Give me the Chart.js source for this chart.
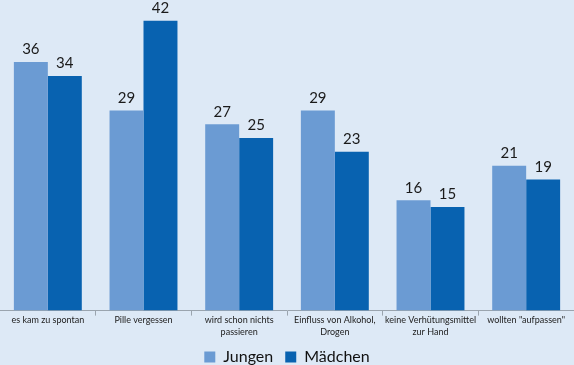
<!DOCTYPE html>
<html>
<head>
<meta charset="utf-8">
<script src="https://cdn.jsdelivr.net/npm/chart.js@4/dist/chart.umd.min.js"></script>
<style>
  html, body { margin: 0; padding: 0; background: #dde9f6; }
  #wrap { width: 574px; height: 365px; }
</style>
</head>
<body>
<div id="wrap"><canvas id="chart"></canvas></div>
<script>
// Categories (reasons) and values per group
const categories = [
  'es kam zu spontan',
  'Pille vergessen',
  ['wird schon nichts', 'passieren'],
  ['Einfluss von Alkohol,', 'Drogen'],
  ['keine Verhütungsmittel', 'zur Hand'],
  'wollten "aufpassen"'
];
const jungen = [36, 29, 27, 29, 16, 21];
const maedchen = [34, 42, 25, 23, 15, 19];

// Draw the value above each bar
const valueLabels = {
  id: 'valueLabels',
  afterDatasetsDraw(chart) {
    const ctx = chart.ctx;
    ctx.save();
    ctx.font = '15px Lato';
    ctx.fillStyle = '#1a1a1a';
    ctx.textAlign = 'center';
    ctx.textBaseline = 'bottom';
    chart.data.datasets.forEach((ds, i) => {
      chart.getDatasetMeta(i).data.forEach((bar, j) => {
        ctx.fillText(ds.data[j], bar.x, bar.y - 5);
      });
    });
    ctx.restore();
  }
};

// Keep the legend box compact so the axis sits lower
const legendFit = {
  id: 'legendFit',
  beforeInit(chart) {
    const fit = chart.legend.fit;
    chart.legend.fit = function () {
      fit.call(this);
      this.height = 28;
    };
  }
};

new Chart(document.getElementById('chart'), {
  type: 'bar',
  data: {
    labels: categories,
    datasets: [
      { label: 'Jungen', data: jungen, backgroundColor: '#6b9bd3' },
      { label: 'Mädchen', data: maedchen, backgroundColor: '#0862b0' }
    ]
  },
  options: {
    responsive: true,
    maintainAspectRatio: false,
    animation: false,
    layout: { padding: 0 },
    categoryPercentage: 0.71,
    barPercentage: 1,
    scales: {
      x: {
        grid: { offset: true, drawOnChartArea: false, tickLength: 5, color: '#9aa4ae' },
        border: { color: '#9aa4ae' },
        ticks: { font: { family: 'Lato', size: 9, lineHeight: 1.3 }, color: '#222', padding: -1, maxRotation: 0, autoSkip: false }
      },
      y: {
        display: false,
        min: 0,
        max: 45
      }
    },
    plugins: {
      legend: {
        position: 'bottom',
        labels: { font: { family: 'Lato', size: 16 }, color: '#111', boxWidth: 11, boxHeight: 11, padding: 12 }
      },
      tooltip: { enabled: false }
    }
  },
  plugins: [valueLabels, legendFit]
});
</script>
</body>
</html>
